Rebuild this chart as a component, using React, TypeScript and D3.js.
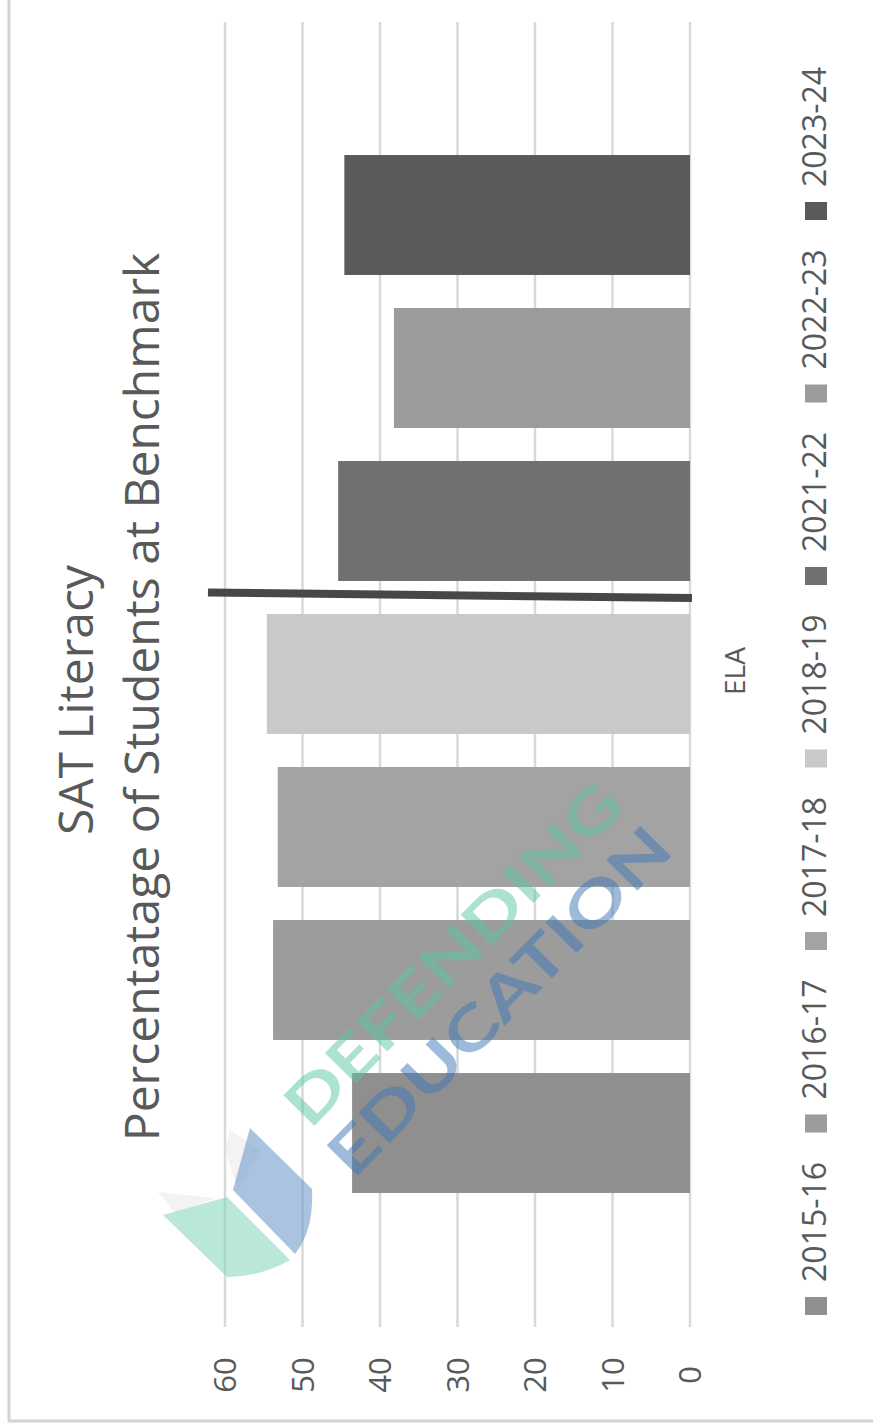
import React, { useEffect, useRef } from "react";
import * as d3 from "d3";

const seasons = ["2015-16", "2016-17", "2017-18", "2018-19", "2021-22", "2022-23", "2023-24"];
const values = [43.6, 53.8, 53.2, 54.6, 45.4, 38.2, 44.6];
const colors = ["#8f8f8f", "#9c9c9c", "#a3a3a3", "#c9c9c9", "#707070", "#9b9b9b", "#5a5a5a"];
const category = "ELA";
const tickValues = [0, 10, 20, 30, 40, 50, 60];
const titleLines = ["SAT Literacy", "Percentatage of Students at Benchmark"];

const W = 873;
const H = 1428;
const FONT = "'Open Sans', 'Noto Sans', sans-serif";
const TEXT = "#595959";

function App() {
  const svgRef = useRef<SVGSVGElement | null>(null);

  useEffect(() => {
    drawChart();
  }, []);

  const drawChart = () => {
    const svg = d3.select(svgRef.current);
    svg.selectAll("*").remove();

    // chart is a column chart turned on its side: values run right to left
    const plot = { top: 22, bottom: 1327 };
    const xScale = d3.scaleLinear().domain([0, 60]).range([690, 225]);
    const yScale = d3
      .scaleBand<string>()
      .domain(seasons)
      .range([1209.5, 138.5])
      .paddingInner(0.216)
      .paddingOuter(0.108);

    const rot = (x: number, y: number) => `translate(${x},${y}) rotate(-90)`;

    // frame
    svg
      .append("path")
      .attr("d", `M9,-5 V1421 H${W + 5}`)
      .attr("fill", "none")
      .attr("stroke", "#d4d4d4")
      .attr("stroke-width", 3);

    // gridlines
    svg
      .append("g")
      .selectAll("line")
      .data(tickValues)
      .enter()
      .append("line")
      .attr("x1", (d) => xScale(d))
      .attr("x2", (d) => xScale(d))
      .attr("y1", plot.top)
      .attr("y2", plot.bottom)
      .attr("stroke", "#d9d9d9")
      .attr("stroke-width", 2.5);

    // tick labels (baseline on the right side once turned)
    svg
      .append("g")
      .selectAll("text")
      .data(tickValues)
      .enter()
      .append("text")
      .attr("transform", (d) => rot(xScale(d) + 11, 1375))
      .attr("text-anchor", "middle")
      .attr("font-family", FONT)
      .attr("font-size", 31)
      .attr("fill", TEXT)
      .text((d) => d);

    // bars
    svg
      .append("g")
      .selectAll("rect")
      .data(seasons)
      .enter()
      .append("rect")
      .attr("x", (d, i) => xScale(values[i]))
      .attr("y", (d) => yScale(d) as number)
      .attr("width", (d, i) => xScale(0) - xScale(values[i]))
      .attr("height", yScale.bandwidth())
      .attr("fill", (d, i) => colors[i]);

    // category label
    const mid = (yScale("2018-19") as number) + yScale.bandwidth() / 2;
    svg
      .append("text")
      .attr("transform", rot(745, mid - 3))
      .attr("text-anchor", "middle")
      .attr("font-family", FONT)
      .attr("font-size", 28)
      .attr("fill", TEXT)
      .text(category);

    // divider drawn between pre- and post-covid years
    const gapMid =
      (yScale("2021-22") as number) + yScale.bandwidth() + (yScale.step() - yScale.bandwidth()) / 2;
    svg
      .append("line")
      .attr("x1", xScale(62.2))
      .attr("x2", xScale(-0.25))
      .attr("y1", gapMid - 5)
      .attr("y2", gapMid + 0.5)
      .attr("stroke", "#474747")
      .attr("stroke-width", 8);

    // title
    svg
      .append("g")
      .selectAll("text")
      .data(titleLines)
      .enter()
      .append("text")
      .attr("transform", (d, i) => rot(i === 0 ? 93 : 159, i === 0 ? 700 : 697))
      .attr("text-anchor", "middle")
      .attr("font-family", FONT)
      .attr("font-size", 48)
      .attr("fill", TEXT)
      .text((d) => d);

    // legend
    const legend = svg
      .append("g")
      .selectAll("g")
      .data(seasons)
      .enter()
      .append("g")
      .attr("transform", (d, i) => `translate(816,${1306 - i * 182.5})`);
    legend
      .append("rect")
      .attr("x", -11)
      .attr("y", -9)
      .attr("width", 22)
      .attr("height", 18)
      .attr("fill", (d, i) => colors[i]);
    legend
      .append("text")
      .attr("transform", rot(10, -24))
      .attr("font-family", FONT)
      .attr("font-size", 32)
      .attr("fill", TEXT)
      .text((d) => d);

    // watermark
    const wm = svg.append("g").attr("pointer-events", "none");
    wm.append("path")
      .attr("d", "M230,1130 L260,1150 L238,1190 L225,1150 Z M158,1192 L215,1198 L175,1213 Z")
      .attr("fill", "#eeeeee")
      .attr("opacity", 0.7);
    wm.append("path")
      .attr("d", "M250,1128 L312,1189 Q314,1230 295,1254 L233,1190 Z")
      .attr("fill", "#6f9bcc")
      .attr("opacity", 0.6);
    wm.append("path")
      .attr("d", "M163,1215 L227,1197 L290,1260 Q260,1277 227,1277 Z")
      .attr("fill", "#7fd3b8")
      .attr("opacity", 0.55);
    wm.append("text")
      .attr("transform", "translate(452,953) rotate(-45.5)")
      .attr("text-anchor", "middle")
      .attr("dominant-baseline", "central")
      .attr("font-family", "Lato, sans-serif")
      .attr("font-weight", 700)
      .attr("font-size", 60)
      .attr("textLength", 452)
      .attr("lengthAdjust", "spacingAndGlyphs")
      .attr("fill", "#5cc6a2")
      .attr("opacity", 0.5)
      .text("DEFENDING");
    wm.append("text")
      .attr("transform", "translate(498,1000) rotate(-45.5)")
      .attr("text-anchor", "middle")
      .attr("dominant-baseline", "central")
      .attr("font-family", "Lato, sans-serif")
      .attr("font-weight", 700)
      .attr("font-size", 60)
      .attr("textLength", 460)
      .attr("lengthAdjust", "spacingAndGlyphs")
      .attr("fill", "#3f78b8")
      .attr("opacity", 0.5)
      .text("EDUCATION");
  };

  return (
    <svg
      ref={svgRef}
      width={W}
      height={H}
      style={{ position: "absolute", left: 0, top: 0, background: "#fff" }}
    />
  );
}

export default App;
